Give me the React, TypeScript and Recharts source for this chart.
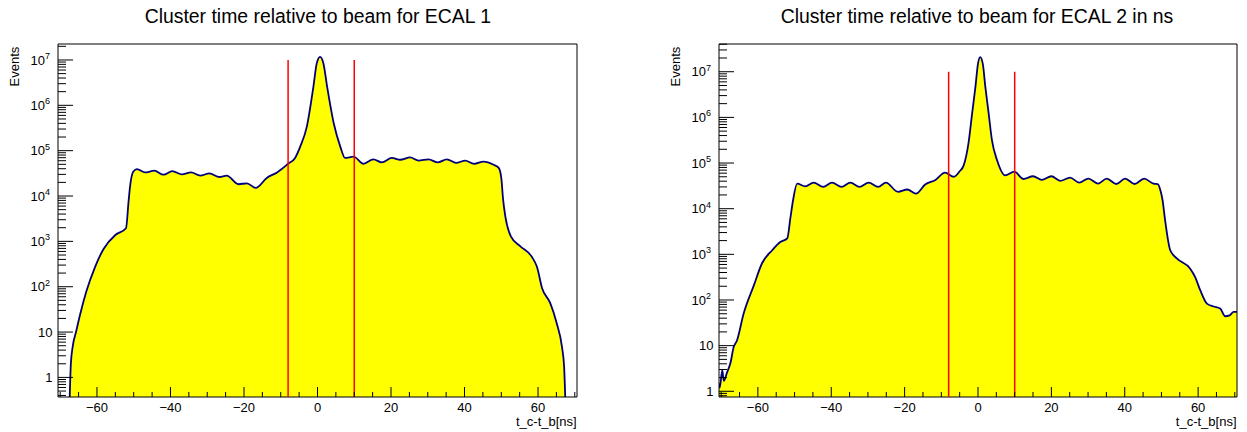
import React from 'react';
import { ComposedChart, Area, XAxis, YAxis, ReferenceLine, ReferenceArea } from 'recharts';

const FONT = '"Liberation Sans", Arial, Helvetica, sans-serif';

// ECAL 1: cluster time minus beam time [ns] and event counts
const ECAL1_T = [
  -67.6, -67.1, -66.6, -65.7, -64.6, -62.9, -60.5, -58.2, -55.0, -52.1,
  -51.4, -51.0, -50.1, -49.1, -46.9, -44.4, -41.9, -39.5, -36.9, -34.4,
  -31.9, -29.4, -26.7, -24.7, -21.5, -19.2, -16.8, -13.8, -11.0, -8.0,
  -6.1, -4.7, -2.9, -1.1, -0.2, 0.7, 1.6, 2.6, 4.4, 6.2,
  7.5, 9.8, 12.5, 15.2, 17.5, 20.2, 22.5, 25.2, 27.5, 30.2,
  32.7, 35.2, 37.7, 40.2, 42.6, 45.2, 47.9, 49.3, 50.0, 50.5,
  51.1, 52.6, 55.2, 58.3, 59.7, 61.1, 63.3, 65.1, 66.5, 67.1,
  67.6,
];
const ECAL1_N = [
  0.1, 2.0, 4.8, 10, 24, 78, 275, 680, 1380, 1950,
  7600, 16200, 34700, 39300, 33100, 36300, 29500, 35500, 29900, 33100,
  28200, 31600, 26300, 28200, 18200, 19100, 15100, 25100, 33100, 51300,
  69200, 123000, 339000, 2630000, 8500000, 11700000, 8500000, 2630000, 407000, 123000,
  69200, 74000, 51300, 64600, 55000, 69200, 63100, 70800, 60300, 64600,
  55000, 64600, 53700, 60300, 51300, 57500, 49000, 41700, 25000, 8300,
  3550, 1290, 776, 457, 275, 93, 44, 15.5, 4.8, 1.7,
  0.1,
];

// ECAL 2: cluster time minus beam time [ns] and event counts
const ECAL2_T = [
  -70.6, -70.4, -69.7, -69.3, -68.4, -67.5, -66.6, -65.7, -63.9, -61.1,
  -58.9, -56.1, -53.9, -52.0, -51.1, -50.4, -49.3, -47.1, -44.8, -42.2,
  -39.8, -37.2, -34.8, -32.3, -29.8, -27.2, -25.1, -21.8, -19.3, -16.9,
  -14.4, -11.6, -9.0, -6.6, -5.0, -3.9, -2.6, -1.6, -0.7, 0.0,
  0.6, 1.3, 2.0, 2.9, 3.8, 5.2, 7.4, 9.9, 12.4, 15.0,
  17.4, 20.0, 22.4, 25.1, 27.6, 30.1, 32.7, 35.1, 37.7, 40.1,
  42.7, 45.3, 47.8, 49.0, 49.7, 50.3, 51.0, 52.4, 54.2, 57.8,
  59.2, 60.6, 62.4, 64.2, 66.0, 67.4, 68.6, 69.7, 70.6,
];
const ECAL2_N = [
  1.5, 1.2, 2.9, 1.7, 2.6, 4.1, 9.3, 13, 50, 209,
  630, 1230, 1860, 2240, 6600, 15500, 35500, 30900, 37200, 30200,
  37200, 30200, 37200, 30200, 37200, 30200, 37200, 23400, 26300, 21400,
  33900, 42700, 61700, 50100, 66000, 89000, 269000, 1230000, 4680000, 15100000,
  20900000, 15100000, 4680000, 1230000, 316000, 115000, 53700, 64600, 44700, 51300,
  42700, 51300, 40700, 47900, 37200, 45700, 35500, 45700, 34700, 45700,
  34700, 45700, 35500, 34700, 25700, 15500, 5600, 1230, 813, 490,
  316, 162, 83, 72, 65, 44, 46, 55, 55,
];

// timing window cuts [ns] and the height of the cut markers
const TIME_CUTS = [-8, 10];
const CUT_HEIGHT = 1e7;

const X_MIN = -70.6;
const X_MAX = 70.6;
const X_TICKS = [-70, -65, -60, -55, -50, -45, -40, -35, -30, -25, -20, -15, -10, -5, 0, 5, 10, 15, 20, 25, 30, 35, 40, 45, 50, 55, 60, 65, 70];
const X_LABELS = [-60, -40, -20, 0, 20, 40, 60];
const DECADES = [0.1, 1, 10, 100, 1e3, 1e4, 1e5, 1e6, 1e7];

function logTicks(lo: number, hi: number): number[] {
  const out: number[] = [];
  DECADES.forEach((d) => {
    for (let m = 1; m <= 9; m++) {
      const v = Number((d * m).toPrecision(6));
      if (v >= lo && v <= hi) out.push(v);
    }
  });
  return out;
}

function fmtX(v: number): string {
  return v < 0 ? '\u2212' + Math.abs(v) : String(v);
}

function XTick(props: any) {
  const { x, y, payload } = props;
  const v = payload.value;
  const major = v % 20 === 0;
  const len = major ? 10 : 5;
  return (
    <g>
      <line x1={x} x2={x} y1={y} y2={y - len} stroke="#000" strokeWidth={1} />
      {X_LABELS.includes(v) && (
        <text x={x} y={y + 14.8} textAnchor="middle" fontSize={13} fontFamily={FONT} fill="#000">
          {fmtX(v)}
        </text>
      )}
    </g>
  );
}

function YTick(props: any) {
  const { x, y, payload } = props;
  const v = payload.value;
  const lg = Math.log10(v);
  const e = Math.round(lg);
  const major = Math.abs(lg - e) < 1e-6;
  const len = major ? 15 : 8;
  let label: React.ReactNode = null;
  if (major && e >= 0) {
    if (e <= 1) {
      label = (
        <text x={x - 5.5} y={y + 4.6} textAnchor="end" fontSize={13} fontFamily={FONT} fill="#000">
          {e === 0 ? '1' : '10'}
        </text>
      );
    } else {
      label = (
        <text x={x - 8} y={y + 4.6} textAnchor="end" fontSize={13} fontFamily={FONT} fill="#000">
          <tspan>10</tspan>
          <tspan dy={-5.5} fontSize={9}>{e}</tspan>
        </text>
      );
    }
  }
  return (
    <g>
      <line x1={x} x2={x + len} y1={y} y2={y} stroke="#000" strokeWidth={1} />
      {label}
    </g>
  );
}

type PanelProps = {
  times: number[];
  counts: number[];
  yMin: number;
  yMax: number;
  width: number;
  axisWidth: number;
  rightGap: number;
};

function HistPanel({ times, counts, yMin, yMax, width, axisWidth, rightGap }: PanelProps) {
  const data = times.map((t, i) => ({ t, n: counts[i] }));
  const yTicks = logTicks(yMin, yMax);
  return (
    <ComposedChart
      width={width}
      height={432}
      data={data}
      margin={{ top: 44, right: rightGap, bottom: 0, left: 0 }}
    >
      <Area
        type="monotone"
        dataKey="n"
        baseValue={yMin}
        fill="#ffff00"
        fillOpacity={1}
        stroke="#00007a"
        strokeWidth={1.8}
        dot={false}
        activeDot={false}
        isAnimationActive={false}
      />
      {TIME_CUTS.map((c) => (
        <ReferenceLine
          key={c}
          segment={[{ x: c, y: yMin }, { x: c, y: CUT_HEIGHT }]}
          stroke="#ff0000"
          strokeWidth={1.5}
        />
      ))}
      <ReferenceArea x1={X_MIN} x2={X_MAX} y1={yMin} y2={yMax} fill="none" stroke="#000" strokeWidth={1} />
      <XAxis
        type="number"
        dataKey="t"
        domain={[X_MIN, X_MAX]}
        allowDataOverflow
        ticks={X_TICKS}
        interval={0}
        tickSize={0}
        tickMargin={0}
        axisLine={false}
        tickLine={false}
        tick={(p: any) => <XTick {...p} />}
        height={35}
      />
      <YAxis
        type="number"
        scale="log"
        domain={[yMin, yMax]}
        allowDataOverflow
        ticks={yTicks}
        interval={0}
        tickSize={0}
        tickMargin={0}
        axisLine={false}
        tickLine={false}
        tick={(p: any) => <YTick {...p} />}
        width={axisWidth}
      />
    </ComposedChart>
  );
}

export default function App() {
  const textStyle = { fontFamily: FONT, fill: '#000' };
  return (
    <div style={{ position: 'absolute', left: 0, top: 0, width: 1247, height: 432, background: '#fff' }}>
      <div style={{ position: 'absolute', left: 0, top: 0 }}>
        <HistPanel times={ECAL1_T} counts={ECAL1_N} yMin={0.37} yMax={2.25e7} width={620} axisWidth={58} rightGap={43} />
      </div>
      <div style={{ position: 'absolute', left: 620, top: 0 }}>
        <HistPanel times={ECAL2_T} counts={ECAL2_N} yMin={0.75} yMax={4.05e7} width={627} axisWidth={99} rightGap={10} />
      </div>
      <svg width={1247} height={432} style={{ position: 'absolute', left: 0, top: 0, pointerEvents: 'none' }}>
        <text x={317.8} y={22.7} textAnchor="middle" fontSize={19.4} {...textStyle}>
          Cluster time relative to beam for ECAL 1
        </text>
        <text x={977} y={22.7} textAnchor="middle" fontSize={19.4} {...textStyle}>
          Cluster time relative to beam for ECAL 2 in ns
        </text>
        <text transform="translate(19.3,46.7) rotate(-90)" textAnchor="end" fontSize={13} {...textStyle}>
          Events
        </text>
        <text transform="translate(680,46.7) rotate(-90)" textAnchor="end" fontSize={13} {...textStyle}>
          Events
        </text>
        <text x={576.7} y={425.8} textAnchor="end" fontSize={13} {...textStyle}>
          t_c-t_b[ns]
        </text>
        <text x={1236.5} y={425.8} textAnchor="end" fontSize={13} {...textStyle}>
          t_c-t_b[ns]
        </text>
      </svg>
    </div>
  );
}
